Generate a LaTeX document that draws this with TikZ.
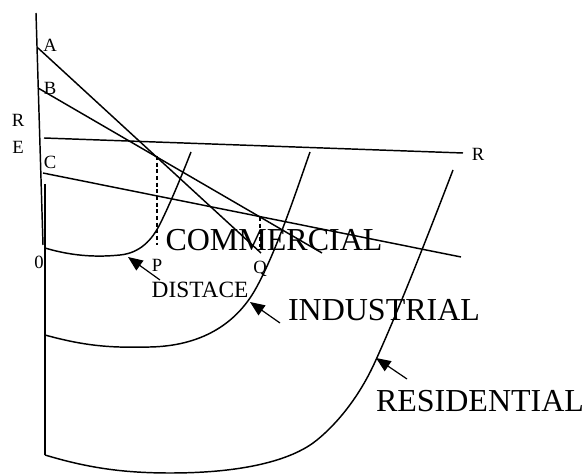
\documentclass[tikz,border=0pt]{standalone}
\usepackage{fontspec}
\setmainfont{Liberation Serif}
\usetikzlibrary{arrows.meta}
\tikzset{
  axis line/.style={line width=1.1pt,black},
  rent line/.style={line width=1.1pt,black},
  rent curve/.style={line width=1.1pt,black},
  guide line/.style={line width=0.9pt,dash pattern=on 3pt off 2pt,black},
  pointer arrow/.style={line width=0.9pt,-{Triangle[length=11pt,width=9pt]}},
  letter label/.style={inner sep=0pt,font=\fontsize{14}{16}\selectfont},
  word label/.style={inner sep=0pt,font=\fontsize{17.5}{20}\selectfont},
  name label/.style={inner sep=0pt,font=\fontsize{24}{28}\selectfont},
}

\begin{document}
\begin{tikzpicture}[x=0.75pt,y=-0.75pt]
\useasboundingbox (0,0) rectangle (583,474);
\coordinate (Otop) at (36,13);
\coordinate (Obot) at (43,245);
\coordinate (Ytop) at (45,184);
\coordinate (Ybot) at (45,455);
\draw[axis line] (Otop) -- (Obot);
\draw[axis line] (Ytop) -- (Ybot);
\coordinate (A) at (38,48);   \coordinate (Aend) at (261,253);
\coordinate (B) at (38,88);   \coordinate (Bend) at (322,253);
\coordinate (R) at (44,138);  \coordinate (Rend) at (463,153);
\coordinate (C) at (43,173);  \coordinate (Cend) at (461,257);
\draw[rent line] (A) -- (Aend);
\draw[rent line] (B) -- (Bend);
\draw[rent line] (R) -- (Rend);
\draw[rent line] (C) -- (Cend);
\coordinate (Ptop) at (157,156); \coordinate (Pfoot) at (157,245);
\coordinate (Qtop) at (260,217); \coordinate (Qfoot) at (260,247);
\draw[guide line] (Ptop) -- (Pfoot);
\draw[guide line] (Qtop) -- (Qfoot);
\node[letter label] (labA) at (50,45) {A};
\node[letter label] (labB) at (50,88) {B};
\node[letter label] (labC) at (50,162) {C};
\node[letter label] (labRl) at (18,120) {R};
\node[letter label] (labE) at (18,147) {E};
\node[letter label] (labRr) at (478,154) {R};
\node[letter label] (lab0) at (39,262) {0};
\node[letter label] (labP) at (157,265) {P};
\node[letter label] (labQ) at (260,269) {Q};
\draw[rent curve] (45,248) .. controls (75,257) and (100,257) .. (120,255)
  .. controls (140,253) and (152,240) .. (160,224)
  .. controls (170,204) and (182,175) .. (191,152);
\draw[rent curve] (45,335) .. controls (85,346) and (110,348) .. (150,347)
  .. controls (200,346) and (235,325) .. (255,290)
  .. controls (275,255) and (295,195) .. (310,152);
\draw[rent curve] (45,455) .. controls (85,467) and (120,473) .. (170,473)
  .. controls (250,473) and (295,458) .. (317,440)
  .. controls (339,422) and (360,395) .. (375,362)
  .. controls (400,307) and (430,230) .. (453,170);
\node[name label] (comm) at (274,240) {COMMERCIAL};
\node[word label] (dist) at (200,290) {DISTACE};
\node[name label] (ind) at (384,310) {INDUSTRIAL};
\node[name label] (res) at (480,401) {RESIDENTIAL};
\coordinate (distTail) at (160,280); \coordinate (distHead) at (128,257);
\coordinate (indTail) at (280,323);  \coordinate (indHead) at (250,302);
\coordinate (resTail) at (407,379);  \coordinate (resHead) at (376,358);
\draw[pointer arrow] (distTail) -- (distHead);
\draw[pointer arrow] (indTail) -- (indHead);
\draw[pointer arrow] (resTail) -- (resHead);
\end{tikzpicture}
\end{document}
